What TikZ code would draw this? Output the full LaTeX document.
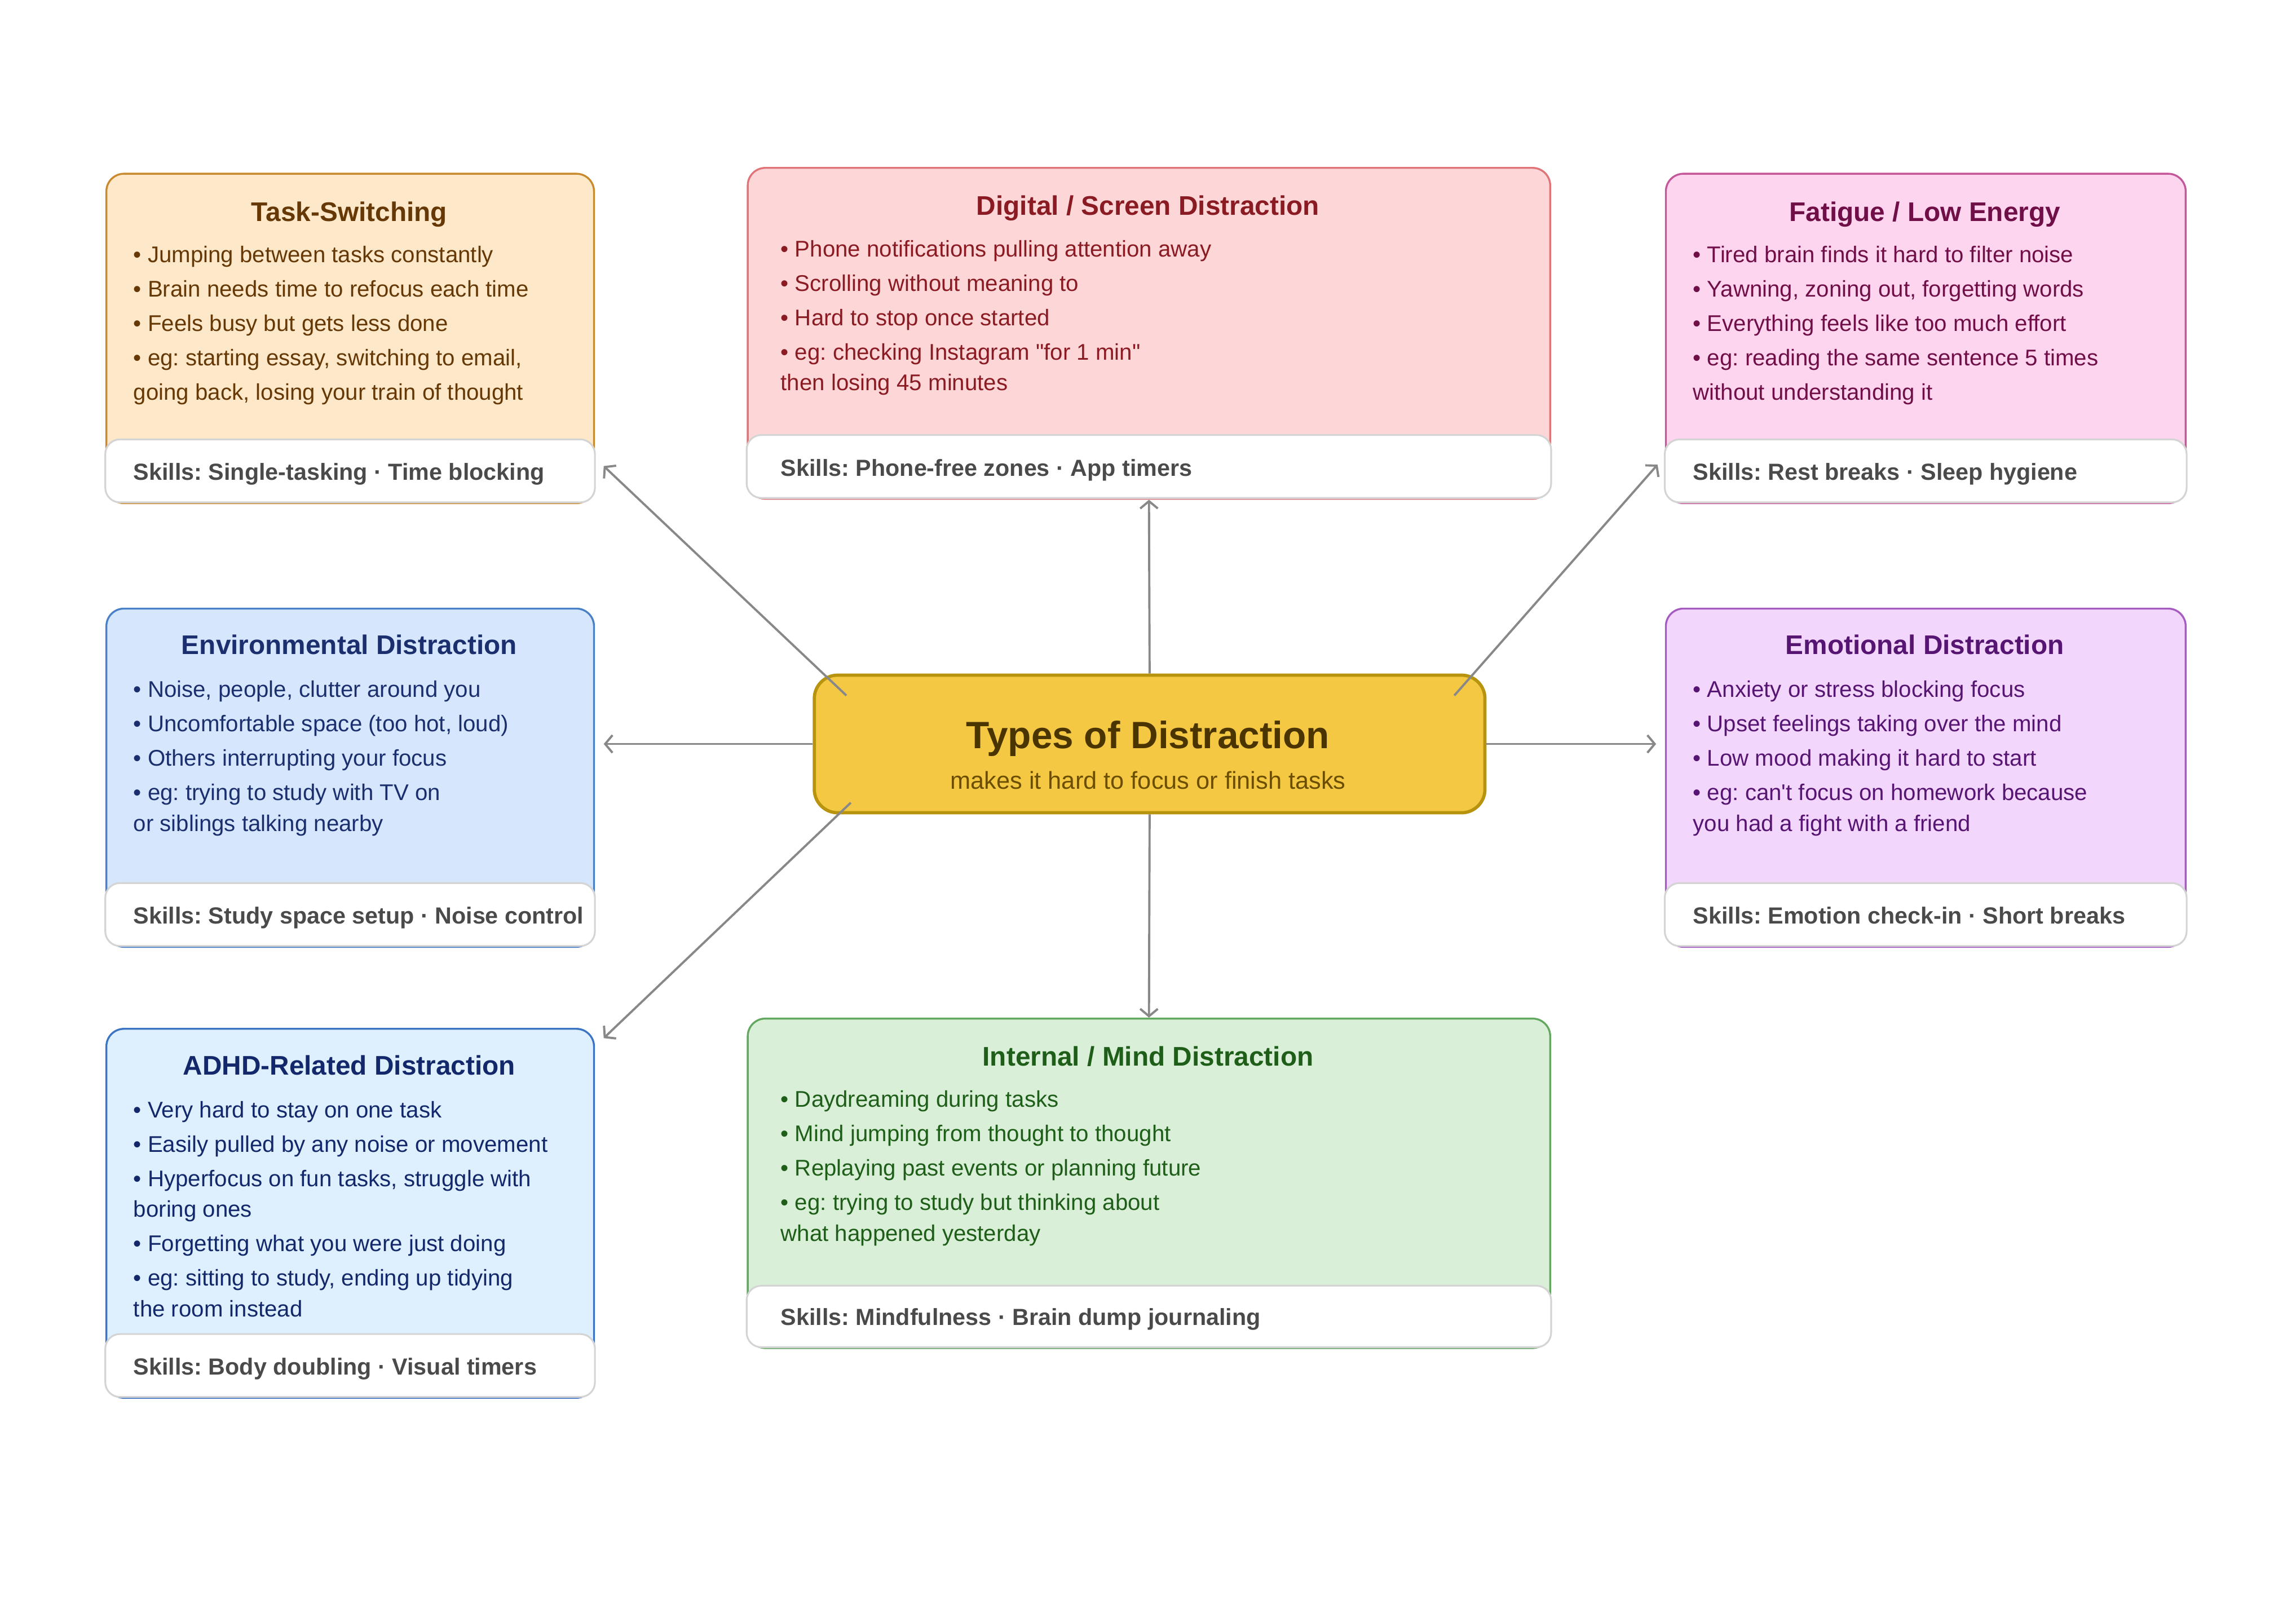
\documentclass[tikz,border=0pt]{standalone}
\usepackage{fontspec}
\setmainfont{Liberation Sans}
\usetikzlibrary{arrows.meta,calc}
\definecolor{tsfill}{HTML}{FDE8C9}\definecolor{tsline}{HTML}{C98A2E}\definecolor{tstext}{HTML}{653806}
\definecolor{dsfill}{HTML}{FDD6D8}\definecolor{dsline}{HTML}{E07479}\definecolor{dstext}{HTML}{8A1B22}
\definecolor{fefill}{HTML}{FDD5EE}\definecolor{feline}{HTML}{C4579A}\definecolor{fetext}{HTML}{700F47}
\definecolor{enfill}{HTML}{D6E7FD}\definecolor{enline}{HTML}{4A80C8}\definecolor{entext}{HTML}{1B2F6E}
\definecolor{emfill}{HTML}{F3D6FB}\definecolor{emline}{HTML}{A45CC0}\definecolor{emtext}{HTML}{561572}
\definecolor{adfill}{HTML}{DEEFFD}\definecolor{adline}{HTML}{3C74C4}\definecolor{adtext}{HTML}{13286A}
\definecolor{infill}{HTML}{D9EFD7}\definecolor{inline}{HTML}{62A85E}\definecolor{intext}{HTML}{1E5E19}
\definecolor{cfill}{HTML}{F4C842}\definecolor{cline}{HTML}{B8940E}\definecolor{ctitle}{HTML}{4A3400}\definecolor{csub}{HTML}{6B4E00}
\definecolor{skilltext}{HTML}{4A4A4A}\definecolor{footline}{HTML}{D4D4D4}\definecolor{conngray}{HTML}{888888}
\begin{document}
\frenchspacing
\begin{tikzpicture}[x=1pt,y=-1pt,
  catbox/.style={line width=1.3pt, rounded corners=12pt, anchor=north west, inner sep=0pt},
  footbox/.style={draw=footline, fill=white, line width=1.2pt, rounded corners=10pt, anchor=south west, inner sep=0pt},
  ttl/.style={anchor=base, inner sep=0pt, font=\fontsize{18.4}{22}\selectfont\bfseries},
  body/.style={anchor=north west, align=left, inner sep=0pt, font=\fontsize{15.5}{23.5}\selectfont},
  skl/.style={anchor=base west, inner sep=0pt, font=\fontsize{15.9}{19}\selectfont\bfseries, text=skilltext},
  conn/.style={draw=conngray, line width=1.5pt, -{Straight Barb[length=5pt,width=12pt,line width=1.5pt]}}
]
\useasboundingbox[fill=white] (0,0) rectangle (1568,1104);
\newcommand{\fl}{\rule{0pt}{12pt}}

% Task-Switching
\node[catbox, draw=tsline, fill=tsfill, minimum width=333pt, minimum height=225pt] (ts) at (72,118) {};
\node[footbox, minimum width=334.4pt, minimum height=43pt] (tsf) at (71.3,343.7) {};
\node[ttl, text=tstext] (tst) at (238.5,151) {Task-Switching};
\node[body, text=tstext] (tsb) at (91,167) {\fl• Jumping between tasks constantly\\• Brain needs time to refocus each time\\• Feels busy but gets less done\\• eg: starting essay, switching to email,\\going back, losing your train of thought};
\node[skl] (tss) at (91,328) {Skills: Single-tasking · Time blocking};

% Digital
\node[catbox, draw=dsline, fill=dsfill, minimum width=548pt, minimum height=226pt] (ds) at (510,114) {};
\node[footbox, minimum width=549.4pt, minimum height=43pt] (dsf) at (509.3,340.7) {};
\node[ttl, text=dstext] (dst) at (784,147) {Digital / Screen Distraction};
\node[body, text=dstext] (dsb) at (533,163) {\fl• Phone notifications pulling attention away\\• Scrolling without meaning to\\• Hard to stop once started\\• eg: checking Instagram \textquotedbl for 1 min\textquotedbl\\[-2.5pt]then losing 45 minutes};
\node[skl] (dss) at (533,325) {Skills: Phone-free zones · App timers};

% Fatigue
\node[catbox, draw=feline, fill=fefill, minimum width=355pt, minimum height=225pt] (fe) at (1137,118) {};
\node[footbox, minimum width=356.4pt, minimum height=43pt] (fef) at (1136.3,343.7) {};
\node[ttl, text=fetext] (fet) at (1314.5,151) {Fatigue / Low Energy};
\node[body, text=fetext] (feb) at (1156,167) {\fl• Tired brain finds it hard to filter noise\\• Yawning, zoning out, forgetting words\\• Everything feels like too much effort\\• eg: reading the same sentence 5 times\\without understanding it};
\node[skl] (fes) at (1156,328) {Skills: Rest breaks · Sleep hygiene};

% Environmental
\node[catbox, draw=enline, fill=enfill, minimum width=333pt, minimum height=231pt] (en) at (72,415) {};
\node[footbox, minimum width=334.4pt, minimum height=43pt] (enf) at (71.3,646.7) {};
\node[ttl, text=entext] (ent) at (238.5,447) {Environmental Distraction};
\node[body, text=entext] (enb) at (91,464) {\fl• Noise, people, clutter around you\\• Uncomfortable space (too hot, loud)\\• Others interrupting your focus\\• eg: trying to study with TV on\\[-2.5pt]or siblings talking nearby};
\node[skl] (ens) at (91,631) {Skills: Study space setup · Noise control};

% Emotional
\node[catbox, draw=emline, fill=emfill, minimum width=355pt, minimum height=231pt] (em) at (1137,415) {};
\node[footbox, minimum width=356.4pt, minimum height=43pt] (emf) at (1136.3,646.7) {};
\node[ttl, text=emtext] (emt) at (1314.5,447) {Emotional Distraction};
\node[body, text=emtext] (emb) at (1156,464) {\fl• Anxiety or stress blocking focus\\• Upset feelings taking over the mind\\• Low mood making it hard to start\\• eg: can\textquotesingle t focus on homework because\\[-2.5pt]you had a fight with a friend};
\node[skl] (ems) at (1156,631) {Skills: Emotion check-in · Short breaks};

% ADHD
\node[catbox, draw=adline, fill=adfill, minimum width=333pt, minimum height=252pt] (ad) at (72,702) {};
\node[footbox, minimum width=334.4pt, minimum height=43pt] (adf) at (71.3,954.7) {};
\node[ttl, text=adtext] (adt) at (238.5,734) {ADHD-Related Distraction};
\node[body, text=adtext] (adb) at (91,751) {\fl• Very hard to stay on one task\\• Easily pulled by any noise or movement\\• Hyperfocus on fun tasks, struggle with\\[-2.5pt]boring ones\\• Forgetting what you were just doing\\• eg: sitting to study, ending up tidying\\[-2.5pt]the room instead};
\node[skl] (ads) at (91,939) {Skills: Body doubling · Visual timers};

% Internal
\node[catbox, draw=inline, fill=infill, minimum width=548pt, minimum height=225pt] (in) at (510,695) {};
\node[footbox, minimum width=549.4pt, minimum height=42pt] (inf) at (509.3,920.7) {};
\node[ttl, text=intext] (int) at (784,728) {Internal / Mind Distraction};
\node[body, text=intext] (inb) at (533,744) {\fl• Daydreaming during tasks\\• Mind jumping from thought to thought\\• Replaying past events or planning future\\• eg: trying to study but thinking about\\[-2.5pt]what happened yesterday};
\node[skl] (ins) at (533,905) {Skills: Mindfulness · Brain dump journaling};

% Center
\node[draw=cline, fill=cfill, line width=2.2pt, rounded corners=16pt, minimum width=458pt, minimum height=94pt, anchor=north west, inner sep=0pt] (c) at (555,460) {};
\node[anchor=base, inner sep=0pt, text=ctitle, font=\fontsize{26}{30}\selectfont\bfseries] (ct) at (784,511) {Types of Distraction};
\node[anchor=base, inner sep=0pt, text=csub, font=\fontsize{16.7}{20}\selectfont] (cs) at (784,539) {makes it hard to focus or finish tasks};

% Connectors
\draw[conn] ($(c.north west)+(23,15)$) -- ($(ts.south east)+(6,-26)$);
\draw[conn] (c.north) -- (ds.south);
\draw[conn] ($(c.north east)+(-22,15)$) -- ($(fe.south west)+(-5,-27)$);
\draw[conn] (c.west) -- ($(en.north east |- c.west)+(6,0)$);
\draw[conn] (c.east) -- ($(em.north west |- c.east)+(-6,0)$);
\draw[conn] ($(c.south west)+(26,-8)$) -- ($(ad.north east)+(6,7)$);
\draw[conn] (c.south) -- (in.north);
\end{tikzpicture}
\end{document}
